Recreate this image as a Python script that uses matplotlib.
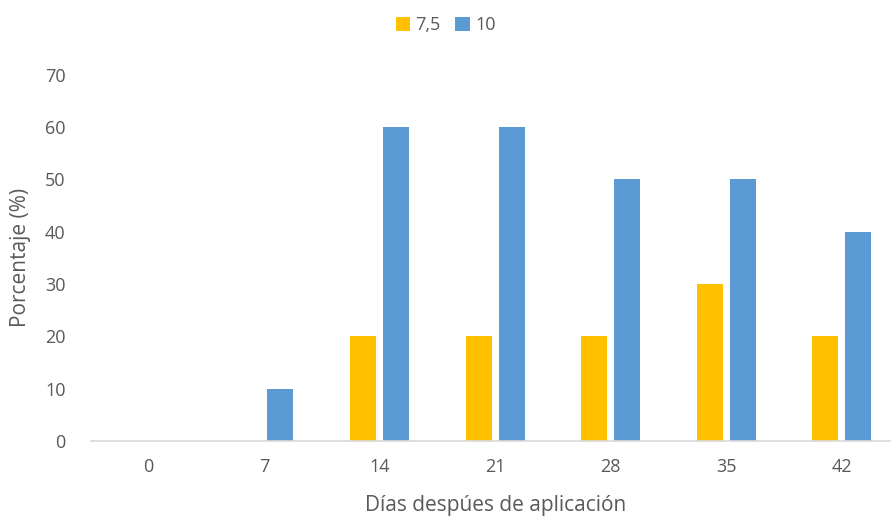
import numpy as np
import matplotlib.pyplot as plt

dias = ["0", "7", "14", "21", "28", "35", "42"]
serie_75 = [0, 0, 20, 20, 20, 30, 20]
serie_10 = [0, 10, 60, 60, 50, 50, 40]

gris = "#595959"
plt.rcParams['font.family'] = ['Open Sans', 'DejaVu Sans']

fig = plt.figure(figsize=(8.91, 5.23), dpi=100)
ax = fig.add_axes([0.1017, 0.157, 0.908, 0.70])

x = np.arange(len(dias))
w = 0.225
ax.bar(x - 0.142, serie_75, w, color="#FFC000", label="7,5")
ax.bar(x + 0.142, serie_10, w, color="#5B9BD5", label="10")

ax.set_xlim(-0.5, len(dias) - 0.5)
ax.set_ylim(0, 70)
ax.set_yticks(range(0, 71, 10))
ax.set_xticks(x)
ax.set_xticklabels(dias)

for s in ["top", "right", "left"]:
    ax.spines[s].set_visible(False)
ax.spines["bottom"].set_color("#D9D9D9")
ax.spines["bottom"].set_linewidth(1.2)
ax.tick_params(axis="both", length=0, labelsize=13, colors=gris, pad=12)
ax.tick_params(axis="y", pad=18)

ax.set_xlabel("Días despúes de aplicación", fontsize=15, color=gris, labelpad=14)
ax.set_ylabel("Porcentaje (%)", fontsize=15, color=gris, labelpad=10)

fig.legend(loc="upper center", bbox_to_anchor=(0.5, 1.0), ncol=2, frameon=False,
           fontsize=13, handlelength=0.8, handleheight=0.8, handletextpad=0.3,
           columnspacing=0.8, labelcolor=gris)

fig.savefig("out.png", dpi=100)
